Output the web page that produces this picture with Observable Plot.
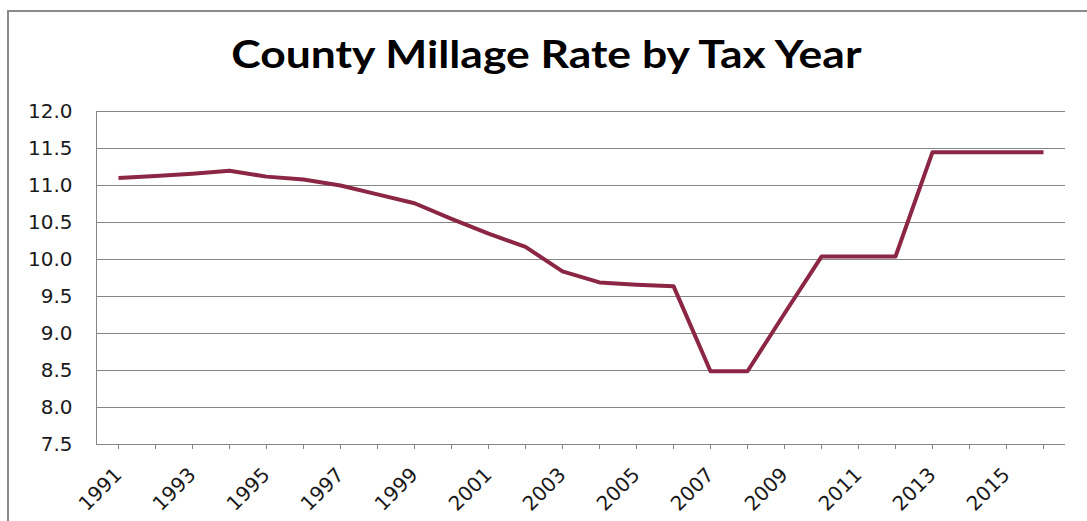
<!DOCTYPE html>
<html>
<head>
<meta charset="utf-8">
<script src="https://cdn.jsdelivr.net/npm/d3@7"></script>
<script src="https://cdn.jsdelivr.net/npm/@observablehq/plot@0.6"></script>
<style>
  html, body { margin: 0; padding: 0; background: #fff; }
  #wrap { position: relative; width: 1087px; height: 521px; overflow: hidden; background: #fff; }
  #border { position: absolute; left: 7px; top: 10px; width: 1200px; height: 700px; border: 2px solid #8a8a8a; box-sizing: border-box; }
  #title { position: relative; height: 90px; box-sizing: border-box; padding-top: 33px; text-align: center;
           font-family: Lato, "Open Sans", sans-serif; font-weight: bold; font-size: 38px; line-height: 40px; color: #000; }
  #title span { display: inline-block; transform: scaleX(1.17); transform-origin: center; margin-left: 6px; }
  #chart { position: relative; }
</style>
</head>
<body>
<div id="wrap">
  <div id="border"></div>
  <div id="title"><span>County Millage Rate by Tax Year</span></div>
  <div id="chart"></div>
</div>
<script>
const years = [1991,1992,1993,1994,1995,1996,1997,1998,1999,2000,2001,2002,2003,2004,2005,2006,2007,2008,2009,2010,2011,2012,2013,2014,2015,2016];
const rates = [11.10,11.13,11.16,11.20,11.12,11.08,11.00,10.88,10.76,10.55,10.35,10.17,9.84,9.69,9.66,9.64,8.49,8.49,9.27,10.04,10.04,10.04,11.45,11.45,11.45,11.45];
const yTicks = [7.5,8.0,8.5,9.0,9.5,10.0,10.5,11.0,11.5,12.0];
const xLabels = [1991,1993,1995,1997,1999,2001,2003,2005,2007,2009,2011,2013,2015];

const table = years.map((y, i) => ({year: y, rate: rates[i]}));
const grey = "#868686";

const chart = Plot.plot({
  width: 1087,
  height: 431,
  marginTop: 21,
  marginBottom: 77,
  marginLeft: 96,
  marginRight: 22,
  style: {fontFamily: "'DejaVu Sans', Verdana, sans-serif", fontSize: "20px", color: "#1a1a1a", background: "transparent"},
  x: {type: "point", domain: years, padding: 0.5, axis: null},
  y: {domain: [7.5, 12], axis: null},
  marks: [
    Plot.gridY(yTicks, {stroke: grey, strokeOpacity: 1, strokeWidth: 1}),
    Plot.frame({anchor: "left", stroke: grey, strokeWidth: 1}),
    Plot.axisY(yTicks, {tickSize: 0, tickPadding: 24, tickFormat: d => d.toFixed(1), fill: "#1a1a1a", label: null}),
    Plot.axisX(years, {tickSize: 5, stroke: grey, tickRotate: -45, tickPadding: 22, fill: "#1a1a1a", fontSize: 20,
                       tickFormat: d => xLabels.includes(d) ? String(d) : "", label: null}),
    Plot.line(table, {x: "year", y: "rate", stroke: "#8c2645", strokeWidth: 4, strokeLinejoin: "round", strokeLinecap: "butt"})
  ]
});
document.getElementById("chart").appendChild(chart);
</script>
</body>
</html>
